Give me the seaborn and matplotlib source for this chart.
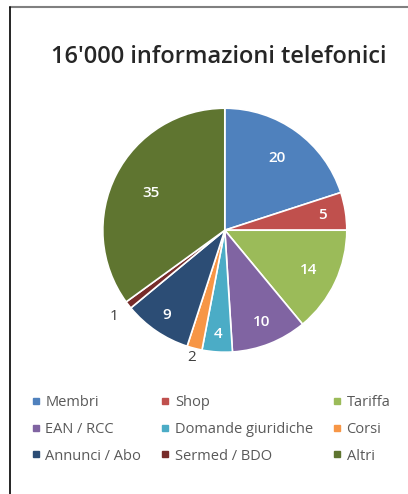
import matplotlib
matplotlib.use("Agg")
import matplotlib.pyplot as plt
import seaborn as sns
import numpy as np
from matplotlib.lines import Line2D

categories = ["Membri", "Shop", "Tariffa", "EAN / RCC", "Domande giuridiche",
              "Corsi", "Annunci / Abo", "Sermed / BDO", "Altri"]
values = [20, 5, 14, 10, 4, 2, 9, 1, 35]
colors = ["#4F81BD", "#C0504D", "#9BBB59", "#8064A2", "#4BACC6",
          "#F79646", "#2C4D75", "#772C2A", "#5F7530"]
title = "16'000 informazioni telefonici"


def main():
    sns.set_style("white")
    plt.rcParams["font.family"] = ["Open Sans", "DejaVu Sans"]

    fig = plt.figure(figsize=(4.08, 4.94), dpi=100)
    ax = fig.add_axes([0.252, 0.287, 0.598, 0.494])

    wedges, _ = ax.pie(values, colors=colors, startangle=90, counterclock=False,
                       wedgeprops=dict(edgecolor="white", linewidth=1.2))
    ax.set_aspect("equal")
    ax.set_xlim(-1, 1)
    ax.set_ylim(-1, 1)

    # label radius per wedge (small ones go outside)
    radii = [0.73, 0.81, 0.76, 0.81, 0.85, 1.08, 0.84, 1.15, 0.68]
    for w, v, r in zip(wedges, values, radii):
        ang = np.deg2rad((w.theta1 + w.theta2) / 2)
        x, y = r * np.cos(ang), r * np.sin(ang)
        inside = r < 1
        ax.text(x, y, str(v), ha="center", va="center", fontsize=11,
                color="white" if inside else "#404040",
                fontweight="semibold" if inside else "normal", clip_on=False)

    fig.text(0.537, 0.885, title, ha="center", va="center", fontsize=17,
             fontweight="semibold", color="#262626")

    # legend is filled row by row
    order = [0, 3, 6, 1, 4, 7, 2, 5, 8]
    handles = [Line2D([], [], marker="s", linestyle="none", markersize=4.5,
                      markerfacecolor=colors[i], markeredgecolor=colors[i]) for i in order]
    labels = [categories[i] for i in order]
    fig.legend(handles, labels, ncol=3, loc="upper left",
               bbox_to_anchor=(0.072, 0.2), frameon=False, fontsize=10.5,
               labelcolor="#595959", handletextpad=0.2, columnspacing=1.2,
               handlelength=0.9, labelspacing=0.8, borderpad=0, borderaxespad=0,
               bbox_transform=fig.transFigure)

    # frame lines of the original image crop
    fig.add_artist(Line2D([0.025, 1.0], [0.986, 0.986], color="#808080", lw=1.5,
                          transform=fig.transFigure))
    fig.add_artist(Line2D([0.025, 0.025], [0.0, 0.986], color="black", lw=1.2,
                          transform=fig.transFigure))

    fig.savefig("out.png", dpi=100)


if __name__ == "__main__":
    main()
